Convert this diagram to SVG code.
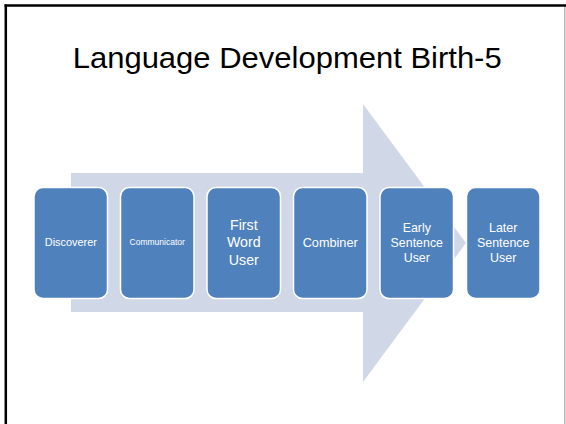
<svg xmlns="http://www.w3.org/2000/svg" width="566" height="424" viewBox="0 0 566 424">
<style>
.box{fill:#4F81BD;stroke:#FFFFFF;stroke-width:1.5}
.lbl{fill:#FFFFFF;font-family:"Liberation Sans",Arial,sans-serif;text-anchor:middle}
.title{fill:#000000;font-family:"Liberation Sans",Arial,sans-serif;font-size:30px;text-anchor:middle}
</style>
<rect x="0" y="0" width="566" height="424" fill="#FFFFFF"/>
<line x1="5.8" y1="4.5" x2="5.8" y2="424" stroke="#000000" stroke-width="2.5"/>
<line x1="4.5" y1="5.5" x2="566" y2="5.5" stroke="#000000" stroke-width="2.5"/>
<line x1="564.8" y1="7" x2="564.8" y2="424" stroke="#A6A6A6" stroke-width="1.2"/>
<text class="title" x="287.2" y="68" textLength="429" lengthAdjust="spacingAndGlyphs">Language Development Birth-5</text>
<g id="connectors">
<polygon id="arrow" points="71,173 363,173 363,104 466,243 363,382 363,312 71,312" fill="#D0D8E8"/>
</g>
<g id="node-discoverer">
<rect class="box" x="34" y="187.5" width="73.5" height="111" rx="9"/>
<text class="lbl" x="70.8" y="245.5" font-size="10.9">Discoverer</text>
</g>
<g id="node-communicator">
<rect class="box" x="120.5" y="187.5" width="73.5" height="111" rx="9"/>
<text class="lbl" x="157.2" y="245" font-size="8.5">Communicator</text>
</g>
<g id="node-firstword">
<rect class="box" x="207" y="187.5" width="73.5" height="111" rx="9"/>
<text class="lbl" font-size="14.2"><tspan x="243.8" y="230">First</tspan><tspan x="243.8" y="247">Word</tspan><tspan x="243.8" y="265">User</tspan></text>
</g>
<g id="node-combiner">
<rect class="box" x="293.5" y="187.5" width="73.5" height="111" rx="9"/>
<text class="lbl" x="330.2" y="246.8" font-size="12.7">Combiner</text>
</g>
<g id="node-early">
<rect class="box" x="380" y="187.5" width="73.5" height="111" rx="9"/>
<text class="lbl" font-size="12.4"><tspan x="416.8" y="232">Early</tspan><tspan x="416.8" y="247">Sentence</tspan><tspan x="416.8" y="262">User</tspan></text>
</g>
<g id="node-later">
<rect class="box" x="466.5" y="187.5" width="73.5" height="111" rx="9"/>
<text class="lbl" font-size="12.4"><tspan x="503.2" y="232">Later</tspan><tspan x="503.2" y="247">Sentence</tspan><tspan x="503.2" y="262">User</tspan></text>
</g>
</svg>
